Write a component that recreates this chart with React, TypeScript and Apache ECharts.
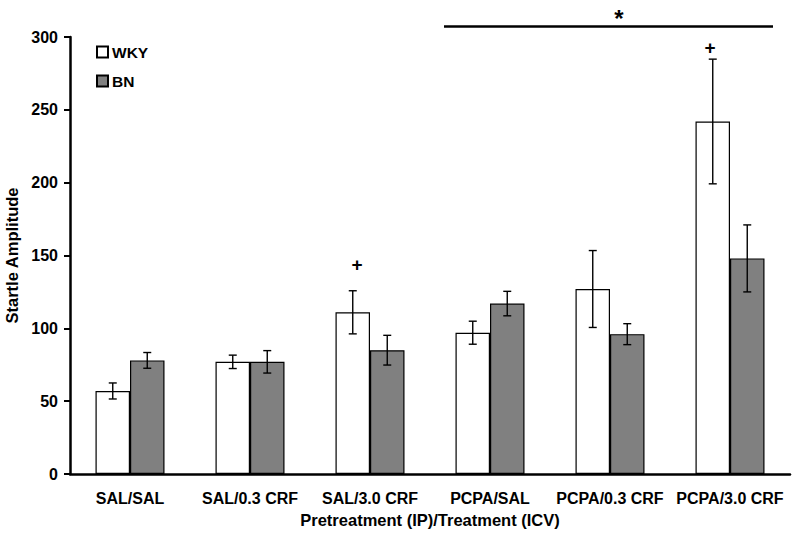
import React, { useEffect, useRef } from "react";
import * as echarts from "echarts";

const categories = ["SAL/SAL", "SAL/0.3 CRF", "SAL/3.0 CRF", "PCPA/SAL", "PCPA/0.3 CRF", "PCPA/3.0 CRF"];
const wkyValues = [57, 77, 111, 97, 127, 242];
const wkyErrors = [5.5, 4.6, 14.8, 7.9, 26.4, 42.8];
const bnValues = [78, 77, 85, 117, 96, 148];
const bnErrors = [5.4, 7.7, 10.2, 8.4, 7.2, 23];
const yTicks = { min: 0, max: 300, interval: 50 };

const FONT = "Arial, 'Liberation Sans', sans-serif";
const BAR_FRAC = 0.2875;

export default function App() {
  const ref = useRef<HTMLDivElement>(null);
  useEffect(() => {
    if (!ref.current) return;
    const chart = echarts.init(ref.current, undefined, { renderer: "svg" });
    const errData: number[][] = [];
    wkyValues.forEach((v, i) => errData.push([i, v, wkyErrors[i], -1]));
    bnValues.forEach((v, i) => errData.push([i, v, bnErrors[i], 1]));

    chart.setOption({
      animation: false,
      backgroundColor: "#fff",
      textStyle: { fontFamily: FONT },
      grid: { left: 70, right: 10, top: 37, bottom: 67, containLabel: false, outerBoundsMode: "none" },
      legend: {
        orient: "vertical",
        left: 96,
        top: 44,
        padding: 0,
        itemWidth: 11,
        itemHeight: 11,
        itemGap: 13,
        icon: "rect",
        data: ["WKY", "BN"],
        textStyle: { fontFamily: FONT, fontWeight: "bold", fontSize: 15.5, color: "#000", padding: [0, 0, 0, -1] },
      },
      xAxis: {
        type: "category",
        data: categories,
        name: "Pretreatment (IP)/Treatment (ICV)",
        nameLocation: "middle",
        nameGap: 37,
        nameTextStyle: { fontFamily: FONT, fontWeight: "bold", fontSize: 16.5, color: "#000" },
        axisLine: { lineStyle: { color: "#000", width: 2.5 } },
        axisTick: { show: false },
        axisLabel: { fontFamily: FONT, fontWeight: "bold", fontSize: 16, color: "#000", margin: 16, interval: 0 },
      },
      yAxis: {
        type: "value",
        min: yTicks.min,
        max: yTicks.max,
        interval: yTicks.interval,
        name: "Startle Amplitude",
        nameLocation: "middle",
        nameGap: 44,
        nameTextStyle: { fontFamily: FONT, fontWeight: "bold", fontSize: 16.5, color: "#000" },
        axisLine: { show: true, lineStyle: { color: "#000", width: 2.5 } },
        axisTick: { show: true, length: 6, lineStyle: { color: "#000", width: 2 } },
        axisLabel: { fontFamily: FONT, fontWeight: "bold", fontSize: 16, color: "#000", margin: 12 },
        splitLine: { show: false },
      },
      series: [
        {
          name: "WKY",
          type: "bar",
          data: wkyValues,
          barWidth: BAR_FRAC * 100 + "%",
          barGap: "0%",
          itemStyle: { color: "#fff", borderColor: "#000", borderWidth: 1.2 },
        },
        {
          name: "BN",
          type: "bar",
          data: bnValues,
          barWidth: BAR_FRAC * 100 + "%",
          barGap: "0%",
          itemStyle: { color: "#808080", borderColor: "#000", borderWidth: 1.2 },
        },
        {
          type: "custom",
          z: 5,
          silent: true,
          data: errData,
          renderItem: (params: any, api: any) => {
            const i = api.value(0);
            const v = api.value(1);
            const e = api.value(2);
            const side = api.value(3);
            const band = api.size([1, 0])[0];
            const off = (side * band * BAR_FRAC) / 2;
            const top = api.coord([i, v + e]);
            const bot = api.coord([i, v - e]);
            const x = top[0] + off;
            const cap = 4;
            const style = { stroke: "#000", lineWidth: 1.4 };
            return {
              type: "group",
              children: [
                { type: "line", shape: { x1: x, y1: top[1], x2: x, y2: bot[1] }, style },
                { type: "line", shape: { x1: x - cap, y1: top[1], x2: x + cap, y2: top[1] }, style },
                { type: "line", shape: { x1: x - cap, y1: bot[1], x2: x + cap, y2: bot[1] }, style },
              ],
            };
          },
        },
      ],
      graphic: [
        { type: "line", shape: { x1: 444, y1: 26.5, x2: 773, y2: 26.5 }, style: { stroke: "#000", lineWidth: 2.5 } },
        { type: "text", x: 619, y: 18, style: { text: "*", fontFamily: FONT, fontWeight: "bold", fontSize: 24, fill: "#000", align: "center", verticalAlign: "middle" } },
        { type: "text", x: 710, y: 47, style: { text: "+", fontFamily: FONT, fontWeight: "bold", fontSize: 19, fill: "#000", align: "center", verticalAlign: "middle" } },
        { type: "text", x: 357, y: 264, style: { text: "+", fontFamily: FONT, fontWeight: "bold", fontSize: 19, fill: "#000", align: "center", verticalAlign: "middle" } },
      ],
    });
    return () => chart.dispose();
  }, []);
  return <div ref={ref} style={{ width: 800, height: 541, position: "absolute", left: 0, top: 0 }} />;
}
